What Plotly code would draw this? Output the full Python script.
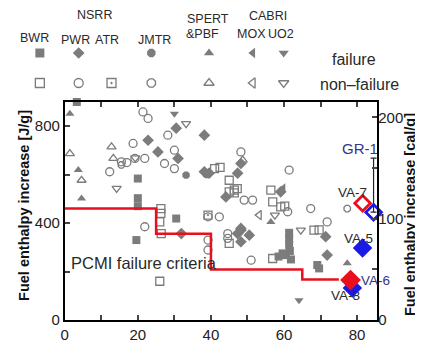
import plotly.graph_objects as go

# ---------------- data (burnup GWd/t, fuel enthalpy increase J/g) ----------------
BWR_FAIL_BU = [3.3, 20, 20, 20, 19.6, 30.5, 61.4, 61.4, 61.4, 61.6, 60.5, 59.6, 69.6, 69.1, 61.9, 58.5]
BWR_FAIL_H = [900, 584, 503, 470, 330, 419, 360, 335, 310, 285, 268, 275, 213, 227, 250, 262]

BWR_NF_BU = [26.3, 26.3, 26, 26.4, 26, 41, 42.5, 45, 45, 46.4, 47.2, 45, 56.4, 56.9, 59.1, 60.2, 56.9, 68.2, 69.6]
BWR_NF_H = [460, 440, 405, 357, 160, 625, 630, 577, 529, 536, 542, 316, 536, 488, 467, 470, 254, 371, 372]

PWR_FAIL_BU = [22.8, 30.5, 25.5, 31, 38.2, 39.5, 38.2, 47.3, 48.2, 44.1, 59.1, 48.2, 50.5, 48.2, 71.4, 71.8, 31.9, 47.3, 48.2]
PWR_FAIL_H = [742, 792, 694, 667, 612, 606, 763, 606, 646, 508, 529, 371, 350, 323, 344, 268, 357, 357, 378]

PWR_NF_BU = [21.4, 22.8, 18.7, 19.2, 21.9, 15.5, 12.3, 27.3, 30, 30, 28.2, 48.2, 61.4, 49.1, 51.4, 61, 67.3,
             39.2, 42.3, 44.6, 51, 71.8, 21.9, 39.2, 39.2, 44.6, 17]
PWR_NF_H = [859, 832, 729, 667, 667, 653, 612, 646, 701, 625, 763, 694, 619, 495, 495, 447, 460,
            426, 426, 337, 247, 405, 385, 330, 289, 357, 650]

ATR_NF_BU = [39.2, 46.4]
ATR_NF_H = [433, 525]

JMTR_FAIL_BU = [33.2, 38.8]
JMTR_FAIL_H = [598, 600]
JMTR_NF_BU = [77.3, 15.5]
JMTR_NF_H = [460, 640]

SPERT_FAIL_BU = [1.4, 3.7, 4.6, 56.4, 77.3]
SPERT_FAIL_H = [852, 619, 502, 405, 234]
SPERT_NF_BU = [1.4, 4.6, 12.8, 13.3, 48.7]
SPERT_NF_H = [687, 577, 715, 667, 660]

MOX_FAIL_BU = [59.8]
MOX_FAIL_H = [545]
MOX_NF_BU = [53.2]
MOX_NF_H = [433]

UO2_FAIL_BU = [30, 64.1]
UO2_FAIL_H = [852, 82]
UO2_NF_BU = [33.2, 14.2, 19.3, 64.6, 57.5]
UO2_NF_H = [811, 543, 669, 371, 433]

# PCMI failure criteria (step line)
CRIT_BU = [0, 25, 25, 40, 40, 65, 65, 75]
CRIT_H = [460, 460, 356, 356, 209, 209, 167, 167]

# Highlighted tests
VA7_BU, VA7_H = [81.5], [482]
GR1_BU, GR1_H, GR1_ERR = [84.5], [445], [223]
VA5_BU, VA5_H = [81.5], [297]
VA8_BU, VA8_H = [78.7], [132]
VA6_BU, VA6_H = [78.2], [165]

LEGEND_COLS = ["BWR", "PWR", "ATR", "JMTR", "SPERT", "MOX", "UO2"]

CAL_PER_J = 1 / 4.184

# ---------------- styles ----------------
GRAY = "#7c7c7c"
RED = "#e8101e"
BLUE = "#1a1ae6"
NAVY = "#34348a"
TXT = "#2a2a2a"
FONT = "Liberation Sans"

# page body has an 8px margin: figure is laid out 8px shifted
OFF = 8
W, H = 423 - OFF, 347 - OFF
ML, MR, MT, MB = 2, 2, 0, 27
PW = W - ML - MR
PH = H - MT - MB
# main plot box in screen pixels
X0, X1, Y0, Y1 = 63, 377, 102, 320

fig = go.Figure()

def add_pts(xs, ys, symbol, filled=True, size=8):
    fig.add_trace(go.Scatter(
        x=xs, y=ys, mode="markers", xaxis="x", yaxis="y",
        marker=dict(symbol=symbol, size=size, color=GRAY,
                    line=dict(color=GRAY, width=1.3 if not filled else 0)),
        cliponaxis=False, showlegend=False, hoverinfo="skip"))

add_pts(BWR_FAIL_BU, BWR_FAIL_H, "square")
add_pts(BWR_NF_BU, BWR_NF_H, "square-open", filled=False)
add_pts(PWR_FAIL_BU, PWR_FAIL_H, "diamond", size=9)
add_pts(PWR_NF_BU, PWR_NF_H, "circle-open", filled=False)
add_pts(ATR_NF_BU, ATR_NF_H, "square-open-dot", filled=False)
add_pts(JMTR_FAIL_BU, JMTR_FAIL_H, "octagon")
add_pts(JMTR_NF_BU, JMTR_NF_H, "octagon-open", filled=False, size=7)
add_pts(SPERT_FAIL_BU, SPERT_FAIL_H, "triangle-up")
add_pts(SPERT_NF_BU, SPERT_NF_H, "triangle-up-open", filled=False)
add_pts(MOX_FAIL_BU, MOX_FAIL_H, "triangle-left")
add_pts(MOX_NF_BU, MOX_NF_H, "triangle-left-open", filled=False)
add_pts(UO2_FAIL_BU, UO2_FAIL_H, "triangle-down")
add_pts(UO2_NF_BU, UO2_NF_H, "triangle-down-open", filled=False)

# criteria line
fig.add_trace(go.Scatter(x=CRIT_BU, y=CRIT_H, mode="lines", xaxis="x", yaxis="y",
                         line=dict(color=RED, width=2.5), showlegend=False, hoverinfo="skip"))

# highlighted tests
fig.add_trace(go.Scatter(x=GR1_BU, y=GR1_H, mode="markers", xaxis="x", yaxis="y",
                         marker=dict(symbol="diamond-open", size=12, color=BLUE, line=dict(width=2.8, color=BLUE)),
                         error_y=dict(type="data", array=GR1_ERR, arrayminus=[0], color="#222222", thickness=1.2, width=3),
                         cliponaxis=False, showlegend=False))
fig.add_trace(go.Scatter(x=VA7_BU, y=VA7_H, mode="markers", xaxis="x", yaxis="y",
                         marker=dict(symbol="diamond-open", size=12, color=RED, line=dict(width=2.8, color=RED)),
                         cliponaxis=False, showlegend=False))
fig.add_trace(go.Scatter(x=VA5_BU + VA8_BU, y=VA5_H + VA8_H, mode="markers", xaxis="x", yaxis="y",
                         marker=dict(symbol="diamond", size=15, color=BLUE),
                         cliponaxis=False, showlegend=False))
fig.add_trace(go.Scatter(x=VA6_BU, y=VA6_H, mode="markers", xaxis="x", yaxis="y",
                         marker=dict(symbol="diamond", size=16, color=RED),
                         cliponaxis=False, showlegend=False))

# right axis dummy trace (cal/g)
fig.add_trace(go.Scatter(x=[None], y=[None], xaxis="x", yaxis="y3", showlegend=False))

# ---------------- custom legend (screen-pixel overlay axes) ----------------
LEG_COL_PX = [38, 77, 110, 150, 208, 252, 283]
LEG_FAIL_SYM = ["square", "diamond", None, "octagon", "triangle-up", "triangle-left", "triangle-down"]
LEG_NF_SYM = ["square-open", "circle-open", "square-open-dot", "octagon-open",
              "triangle-up-open", "triangle-left-open", "triangle-down-open"]
fx = [LEG_COL_PX[i] for i, s in enumerate(LEG_FAIL_SYM) if s]
fs = [s for s in LEG_FAIL_SYM if s]
fig.add_trace(go.Scatter(x=fx, y=[53] * len(fx), mode="markers", xaxis="x2", yaxis="y2",
                         marker=dict(symbol=fs, size=9, color=GRAY, line=dict(width=0)),
                         cliponaxis=False, showlegend=False, hoverinfo="skip"))
fig.add_trace(go.Scatter(x=LEG_COL_PX, y=[83] * len(LEG_COL_PX), mode="markers", xaxis="x2", yaxis="y2",
                         marker=dict(symbol=LEG_NF_SYM, size=9, color=GRAY, line=dict(width=1.3, color=GRAY)),
                         cliponaxis=False, showlegend=False, hoverinfo="skip"))

annotations = []
def txt(text, x, y, size=11, color=TXT, xanchor="center", xref="x2", yref="y2", angle=0, bold=False):
    annotations.append(dict(text=("<b>%s</b>" % text) if bold else text, x=x, y=y, xref=xref, yref=yref,
                            showarrow=False, xanchor=xanchor, yanchor="middle", textangle=angle,
                            font=dict(family=FONT, size=size, color=color)))

for label, px, py in [("BWR", 33, 38), ("NSRR", 93, 15), ("PWR", 74, 40), ("ATR", 105, 40), ("JMTR", 153, 40),
                      ("SPERT", 207, 19), ("&PBF", 201, 34), ("CABRI", 267, 16), ("MOX", 251, 34), ("UO2", 280, 34)]:
    txt(label, px, py, size=12.5)
txt("failure", 330, 59, size=16, xanchor="left")
txt("non\u2012failure", 317, 84, size=16, xanchor="left")

# axis titles (screen-pixel overlay)
txt("Fuel enthalpy increase [J/g]", 22, 205, size=14.5, color="#111111", angle=-90, bold=True)
txt("Fuel enthalpy increase [cal/g]", 410, 215, size=14.5, color="#111111", angle=-90, bold=True)

# chart texts in data coordinates
txt("PCMI failure criteria", 1.1, 235, size=16.5, xanchor="left", xref="x", yref="y")
txt("GR-1", 80.9, 709, size=15, color=NAVY, xref="x", yref="y")
txt("VA-7", 78.7, 528, size=13.5, xref="x", yref="y")
txt("VA-5", 80.4, 338, size=13.5, xref="x", yref="y")
txt("VA-6", 85.0, 165, size=13.5, color=NAVY, xref="x", yref="y")
txt("VA-8", 76.8, 103, size=13.5, xref="x", yref="y")

tickfont = dict(family=FONT, size=15, color="#222222")
xd0 = (X0 - OFF - ML) / PW
xd1 = (X1 - OFF - ML) / PW
yd1 = (PH - (Y0 - OFF - MT)) / PH
fig.update_layout(
    width=W, height=H,
    margin=dict(l=ML, r=MR, t=MT, b=MB),
    paper_bgcolor="white", plot_bgcolor="rgba(0,0,0,0)",
    showlegend=False,
    annotations=annotations,
    xaxis=dict(domain=[xd0, xd1], range=[0, 85.5], anchor="y",
               tickmode="linear", tick0=0, dtick=20, ticks="inside", ticklen=5, tickwidth=1.5,
               minor=dict(dtick=10, ticks="inside", ticklen=5, tickwidth=1.5),
               showline=True, linecolor="black", linewidth=1.8, mirror="ticks",
               showgrid=False, zeroline=False, tickfont=tickfont),
    yaxis=dict(domain=[0, yd1], range=[0, 900], anchor="x",
               tickmode="linear", tick0=0, dtick=400, ticks="inside", ticklen=5, tickwidth=1.5,
               minor=dict(dtick=200, ticks="inside", ticklen=5, tickwidth=1.5),
               showline=True, linecolor="black", linewidth=1.8, mirror=True,
               showgrid=False, zeroline=False, tickfont=tickfont),
    yaxis3=dict(overlaying="y", side="right", anchor="x", range=[0, 900 * CAL_PER_J],
                tickmode="linear", tick0=0, dtick=100, ticks="inside", ticklen=5, tickwidth=1.5,
                minor=dict(dtick=50, ticks="inside", ticklen=5, tickwidth=1.5),
                showline=False, showgrid=False, zeroline=False, tickfont=tickfont),
    xaxis2=dict(domain=[0, 1], range=[ML + OFF, ML + OFF + PW], anchor="y2", visible=False, fixedrange=True),
    yaxis2=dict(domain=[0, 1], range=[MT + OFF + PH, MT + OFF], anchor="x2", visible=False, fixedrange=True),
)

fig.write_html("out.html")
